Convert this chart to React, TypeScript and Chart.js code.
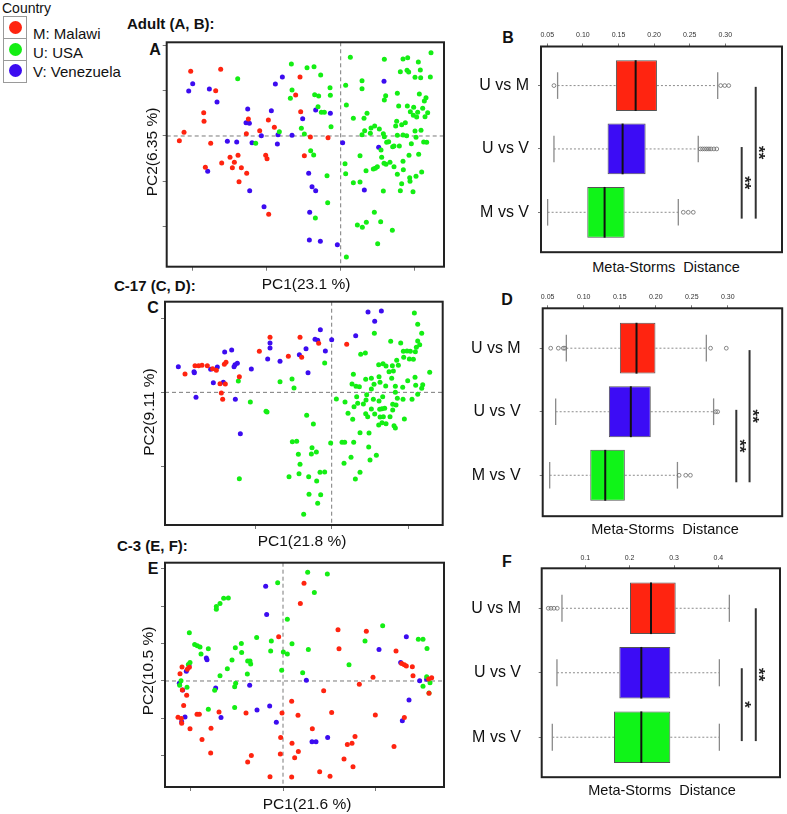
import React, { useEffect, useRef } from 'react';
import { Chart, registerables } from 'chart.js';
Chart.register(...registerables);

const FONT = '"Liberation Sans", Arial, Helvetica, sans-serif';

// ---------- shared ----------
const countries = ['M: Malawi', 'U: USA', 'V: Venezuela'];
const countryColors = ['#ff2410', '#14ee14', '#3c0cf0'];
const categories = ['U vs M', 'U vs V', 'M vs V'];
const boxColors = ['#ff2410', '#3c0cf5', '#10f418'];

// ---------- Panel A (Adult PCoA), arbitrary PC score units ----------
const aMalawi: number[][] = [[-450,194],[-360,200],[-375,136],[-122,177],[-135,123],[-411,70],[-410,44],[-120,73],[-470,11],[-484,-14],[-390,-22],[-277,51],[-283,7],[-243,16],[-217,48],[-199,26],[-91,-3],[-38,-5],[-109,-59],[-225,-58],[-221,-68],[-332,-64],[-308,-58],[-319,-79],[-357,-81],[-325,-95],[-298,-95],[-282,-112],[-406,-94],[-305,-137],[-216,-235]];
const aUSA: number[][] = [[-309,172],[-148,216],[-101,205],[-80,208],[-60,183],[-146,138],[-151,113],[-78,124],[-66,120],[-32,145],[-31,122],[-68,88],[-58,71],[-49,71],[-29,28],[-118,23],[-109,6],[-184,13],[-255,-22],[-90,-44],[-81,-57],[-41,-119],[-39,-200],[-76,-246],[29,236],[15,152],[17,93],[64,166],[64,142],[131,230],[187,231],[201,235],[271,250],[233,222],[179,193],[199,197],[204,192],[239,198],[223,176],[240,175],[269,177],[135,121],[131,108],[170,128],[236,126],[256,115],[251,105],[174,90],[200,90],[219,86],[209,73],[218,62],[228,57],[231,71],[246,83],[261,70],[253,58],[38,53],[79,68],[70,53],[168,44],[165,30],[183,34],[194,40],[91,24],[102,30],[72,16],[64,4],[89,8],[116,21],[128,7],[131,-2],[144,-17],[170,2],[187,3],[198,1],[223,15],[241,17],[226,-4],[249,-18],[258,-19],[138,-19],[156,-32],[160,-30],[176,-30],[212,-23],[234,-55],[121,-42],[58,-59],[123,-64],[130,-82],[136,-85],[148,-79],[160,-92],[187,-76],[205,-58],[13,-83],[15,-113],[76,-104],[98,-99],[104,-97],[110,-92],[38,-140],[58,-138],[170,-115],[188,-101],[207,-125],[226,-121],[243,-108],[208,-136],[183,-143],[179,-164],[217,-167],[128,-165],[101,-229],[120,-257],[50,-267],[65,-274],[77,-259],[155,-283],[111,-323],[17,-363]];
const aVenezuela: number[][] = [[-444,157],[-456,135],[-394,141],[-371,102],[-175,177],[-196,156],[-279,81],[-208,76],[-284,40],[-274,38],[-114,52],[-75,78],[-31,68],[-188,4],[-146,2],[-238,1],[-340,-16],[-312,-18],[-266,-20],[-190,-24],[6,-20],[130,164],[114,-34],[-399,-106],[-273,-164],[-96,-112],[-86,-152],[-75,-164],[-230,-212],[-93,-229],[-94,-312],[-61,-316],[-10,-326],[71,-162]];
const aXTicks = [-444, -222, 0, 222];
const aYTicks = [-270, -135, 0, 135, 270];

// ---------- Panel C (C-17) ----------
const cMalawi: number[][] = [[-440,55],[-410,80],[-399,80],[-389,81],[-373,80],[-357,71],[-346,66],[-322,84],[-317,90],[-335,26],[-319,25],[-331,-2],[-327,-21],[-277,47],[-217,123],[-185,165],[-130,108],[-95,165],[-90,105],[-39,147],[45,144]];
const cUSA: number[][] = [[-280,34],[-244,-29],[-197,-57],[-194,-59],[-277,-259],[-155,32],[-119,40],[-113,13],[-21,88],[-75,-69],[-55,-95],[-118,-148],[-105,-147],[-100,-186],[-95,-216],[-59,-166],[-46,-179],[-61,-185],[-35,-240],[-21,-239],[-98,-244],[-128,-253],[-69,-253],[-45,-266],[-68,-306],[-33,-307],[-42,-333],[-84,-366],[-3,-152],[14,-20],[40,-29],[49,-63],[31,-150],[39,-150],[66,-150],[37,-213],[58,-195],[85,-240],[71,-260],[111,-164],[134,-189],[115,-203],[128,177],[101,118],[87,114],[177,153],[207,148],[248,238],[258,204],[270,177],[215,123],[226,124],[236,123],[251,122],[254,135],[264,143],[258,154],[216,105],[233,100],[245,99],[154,86],[141,83],[163,79],[182,80],[200,81],[195,96],[294,60],[65,54],[61,25],[73,18],[83,17],[102,39],[119,42],[127,24],[119,10],[142,47],[145,30],[162,19],[172,62],[180,42],[185,64],[191,18],[191,0],[213,15],[228,35],[250,45],[252,21],[273,23],[270,12],[258,-6],[241,-21],[214,-21],[197,-18],[193,-38],[183,-36],[78,-33],[75,-13],[105,-7],[103,-23],[125,-21],[153,-13],[142,-26],[95,-35],[102,-64],[108,-73],[119,-50],[129,-65],[144,-51],[151,-49],[155,-73],[159,-48],[145,-74],[151,-91],[175,-73],[163,-94],[187,-100],[191,-107],[218,-80],[85,-121],[112,-122],[141,-98],[183,-53],[67,-43],[63,-81]];
const cVenezuela: number[][] = [[-460,77],[-413,62],[-412,59],[-407,-15],[-363,69],[-343,76],[-355,29],[-325,30],[-321,121],[-300,127],[-290,83],[-283,87],[-293,77],[-289,-21],[-274,-124],[-241,70],[-192,100],[-185,148],[-185,133],[-155,93],[-97,113],[-77,131],[-71,59],[-50,159],[-34,188],[-42,156],[-19,124],[0,158],[72,170],[109,241],[149,244],[129,213]];
const cXTicks = [-230, 0, 230];
const cYTicks = [-222, 0, 222];

// ---------- Panel E (C-3) ----------
const eMalawi: number[][] = [[63,294],[52,233],[-13,133],[165,154],[168,97],[250,150],[339,90],[356,53],[364,49],[370,45],[388,43],[390,16],[270,11],[229,-10],[122,-29],[26,-61],[-3,-96],[-111,-96],[45,-103],[146,-95],[277,-102],[364,-110],[88,-144],[-7,-170],[27,-187],[46,-212],[35,-231],[-8,-220],[-95,-224],[-106,-244],[-39,-288],[26,-289],[110,-273],[141,-287],[183,-235],[210,-258],[193,-191],[207,-187],[216,-167],[333,-197],[-303,42],[-309,22],[-281,41],[-287,35],[-302,-27],[-289,-43],[-298,-74],[-315,-109],[-305,-113],[-304,-127],[-279,-144],[-258,-100],[-251,-100],[-243,-176],[-216,-142],[-217,-217],[-192,-93],[437,6],[446,10],[438,-37]];
const eUSA: number[][] = [[74,327],[133,322],[-16,296],[94,266],[-178,249],[-164,250],[-189,233],[-200,224],[-200,216],[13,186],[-281,145],[-265,110],[-257,106],[-249,102],[-224,97],[-246,81],[-279,56],[-284,50],[-167,37],[-189,16],[-153,63],[-143,100],[-125,113],[-124,86],[-106,60],[-99,60],[-97,51],[-107,21],[-142,-7],[-145,-17],[-79,131],[-35,120],[-37,90],[1,87],[13,81],[27,112],[-4,32],[59,25],[76,95],[299,166],[246,120],[198,49],[406,126],[420,126],[432,98],[431,13],[420,-16],[441,-5],[438,-36],[-306,1],[-310,-13],[-288,-19],[-205,-28],[-224,-85],[-145,-80]];
const eVenezuela: number[][] = [[-52,285],[-49,200],[-230,69],[-228,64],[-282,47],[-290,29],[-301,-27],[-202,-21],[-100,-13],[-78,-87],[-40,-75],[-20,-124],[70,2],[87,-183],[99,-183],[134,-170],[288,95],[370,133],[353,56],[410,1],[431,5],[378,-57],[358,-120],[-294,-108],[-304,-123],[-186,-110],[-311,-7]];
const eXTicks = [-277, 0, 277];
const eYTicks = [-225, -112.5, 0, 112.5, 225, 337.5];

// ---------- Panel B (Adult Meta-Storms distances) ----------
const bWhiskLo = [0.0645, 0.0594, 0.0505];
const bQ1 = [0.1464, 0.1347, 0.1062];
const bMedian = [0.1741, 0.1558, 0.1305];
const bQ3 = [0.2040, 0.1881, 0.1586];
const bWhiskHi = [0.2893, 0.2620, 0.2340];
const bOutliers = [[0.0594, 0.2935, 0.2992, 0.3048], [0.265, 0.268, 0.271, 0.274, 0.277, 0.280, 0.284, 0.288], [0.241, 0.248, 0.255]];
const bTicks = [0.05, 0.10, 0.15, 0.20, 0.25, 0.30];
const bSigX = [0.323, 0.3427];
const bSigFrom = [0.97, 0.02];
const bSigTo = [2.1, 2.1];
const bSigLabel = ['**', '**'];

// ---------- Panel D (C-17) ----------
const dWhiskLo = [0.0759, 0.0611, 0.0528];
const dQ1 = [0.1502, 0.1349, 0.1091];
const dMedian = [0.1733, 0.1654, 0.1299];
const dQ3 = [0.1996, 0.1931, 0.1571];
const dWhiskHi = [0.2702, 0.2803, 0.2301];
const dOutliers = [[0.0542, 0.0648, 0.0717, 0.0738, 0.2761, 0.2979], [0.2831, 0.2859], [0.2324, 0.2416, 0.2481]];
const dTicks = [0.05, 0.10, 0.15, 0.20, 0.25, 0.30];
const dSigX = [0.3118, 0.3302];
const dSigFrom = [0.97, 0.03];
const dSigTo = [2.11, 2.11];
const dSigLabel = ['**', '**'];

// ---------- Panel F (C-3) ----------
const fWhiskLo = [0.0474, 0.0361, 0.0256];
const fQ1 = [0.2008, 0.1767, 0.1647];
const fMedian = [0.2481, 0.2263, 0.2263];
const fQ3 = [0.3038, 0.2917, 0.2917];
const fWhiskHi = [0.4248, 0.4023, 0.4023];
const fOutliers = [[0.0165, 0.0226, 0.0293, 0.0368], [], []];
const fTicks = [0.1, 0.2, 0.3, 0.4];
const fSigX = [0.4528, 0.4844];
const fSigFrom = [0.93, 0.0];
const fSigTo = [2.06, 2.06];
const fSigLabel = ['*', '**'];

// ---------- chart helpers ----------
const scatterDecor = {
  id: 'scatterDecor',
  beforeDatasetsDraw(chart: any) {
    const { ctx, chartArea: a, scales } = chart;
    const px = scales.x.getPixelForValue(0);
    const py = scales.y.getPixelForValue(0);
    ctx.save();
    ctx.strokeStyle = '#7a7a7a';
    ctx.lineWidth = 1;
    ctx.setLineDash([4, 3]);
    ctx.beginPath();
    ctx.moveTo(px, a.top); ctx.lineTo(px, a.bottom);
    ctx.moveTo(a.left, py); ctx.lineTo(a.right, py);
    ctx.stroke();
    ctx.restore();
  },
  afterDraw(chart: any) {
    const { ctx, chartArea: a } = chart;
    ctx.save();
    ctx.strokeStyle = '#222';
    ctx.lineWidth = 2;
    ctx.strokeRect(a.left, a.top, a.right - a.left, a.bottom - a.top);
    ctx.restore();
  },
};

function ScatterPanel(props: any) {
  const { box, groups, xMin, xMax, yMin, yMax, xTicks, yTicks } = props;
  const ref = useRef<HTMLCanvasElement>(null);
  const cl = Math.floor(box.l) - 10;
  const ct = Math.floor(box.t) - 10;
  const cw = Math.ceil(box.r) + 10 - cl;
  const ch = Math.ceil(box.b) + 10 - ct;
  useEffect(() => {
    const axis = 8;
    const chart = new Chart(ref.current as HTMLCanvasElement, {
      type: 'scatter',
      data: {
        datasets: groups.map((g: number[][], i: number) => ({
          label: countries[i],
          data: g.map(([x, y]) => ({ x, y })),
          backgroundColor: countryColors[i],
          borderColor: countryColors[i],
          borderWidth: 0,
          pointRadius: 2.5,
        })),
      },
      options: {
        responsive: false,
        animation: false,
        events: [],
        layout: {
          padding: {
            left: box.l - cl - axis,
            top: box.t - ct,
            right: cl + cw - box.r,
            bottom: ct + ch - box.b - axis,
          },
        },
        plugins: { legend: { display: false }, tooltip: { enabled: false } },
        scales: {
          x: {
            type: 'linear', position: 'bottom', min: xMin, max: xMax,
            afterBuildTicks: (s: any) => { s.ticks = xTicks.map((v: number) => ({ value: v })); },
            afterFit: (s: any) => { s.height = axis; s.paddingLeft = 0; s.paddingRight = 0; },
            ticks: { display: false },
            grid: { drawOnChartArea: false, drawTicks: true, tickLength: 4, color: '#777' },
            border: { display: false },
          },
          y: {
            type: 'linear', position: 'left', min: yMin, max: yMax,
            afterBuildTicks: (s: any) => { s.ticks = yTicks.map((v: number) => ({ value: v })); },
            afterFit: (s: any) => { s.width = axis; s.paddingTop = 0; s.paddingBottom = 0; },
            ticks: { display: false },
            grid: { drawOnChartArea: false, drawTicks: true, tickLength: 4, color: '#777' },
            border: { display: false },
          },
        },
      } as any,
      plugins: [scatterDecor],
    });
    return () => chart.destroy();
  }, []);
  return (
    <canvas ref={ref} width={cw} height={ch}
      style={{ position: 'absolute', left: cl, top: ct, width: cw, height: ch }} />
  );
}

function makeBoxDecor(d: any) {
  return {
    id: 'boxDecor',
    beforeDatasetsDraw(chart: any) {
      const { ctx, scales } = chart;
      const x = scales.x, y = scales.y;
      ctx.save();
      d.q1.forEach((_: number, i: number) => {
        const py = y.getPixelForValue(i);
        const cap = Math.abs(y.getPixelForValue(i + 0.21) - py);
        ctx.setLineDash([2, 2]);
        ctx.strokeStyle = '#8c8c8c';
        ctx.lineWidth = 1;
        ctx.beginPath();
        ctx.moveTo(x.getPixelForValue(d.lo[i]), py); ctx.lineTo(x.getPixelForValue(d.q1[i]), py);
        ctx.moveTo(x.getPixelForValue(d.q3[i]), py); ctx.lineTo(x.getPixelForValue(d.hi[i]), py);
        ctx.stroke();
        ctx.setLineDash([]);
        ctx.strokeStyle = '#8a8a8a';
        ctx.lineWidth = 1.3;
        [d.lo[i], d.hi[i]].forEach((v: number) => {
          const px = x.getPixelForValue(v);
          ctx.beginPath(); ctx.moveTo(px, py - cap); ctx.lineTo(px, py + cap); ctx.stroke();
        });
      });
      ctx.restore();
    },
    afterDatasetsDraw(chart: any) {
      const { ctx, scales } = chart;
      const x = scales.x, y = scales.y;
      ctx.save();
      d.med.forEach((m: number, i: number) => {
        const px = x.getPixelForValue(m);
        const h = Math.abs(y.getPixelForValue(i + 0.4) - y.getPixelForValue(i));
        const py = y.getPixelForValue(i);
        ctx.strokeStyle = '#111'; ctx.lineWidth = 2;
        ctx.beginPath(); ctx.moveTo(px, py - h); ctx.lineTo(px, py + h); ctx.stroke();
      });
      d.sigX.forEach((sx: number, i: number) => {
        const px = x.getPixelForValue(sx);
        const y1 = y.getPixelForValue(d.sigFrom[i]);
        const y2 = y.getPixelForValue(d.sigTo[i]);
        ctx.strokeStyle = '#333'; ctx.lineWidth = 2;
        ctx.beginPath(); ctx.moveTo(px, y1); ctx.lineTo(px, y2); ctx.stroke();
        ctx.save();
        ctx.translate(px + 2, (y1 + y2) / 2);
        ctx.rotate(Math.PI / 2);
        ctx.font = `bold 17px ${FONT}`;
        ctx.fillStyle = '#222';
        ctx.textAlign = 'center';
        ctx.textBaseline = 'middle';
        ctx.fillText(d.sigLabel[i], 0, 0);
        ctx.restore();
      });
      ctx.restore();
    },
    afterDraw(chart: any) {
      const { ctx, chartArea: a } = chart;
      ctx.save();
      ctx.strokeStyle = '#222';
      ctx.lineWidth = 2;
      ctx.strokeRect(a.left, a.top, a.right - a.left, a.bottom - a.top);
      ctx.restore();
    },
  };
}

function BoxPanel(props: any) {
  const { box, d, xMin, xMax, yMin, yMax, xTicks, decimals, labelPad, tickPad } = props;
  const ref = useRef<HTMLCanvasElement>(null);
  const cl = 465;
  const cw = 787 - cl;
  const ct = Math.floor(box.t) - 28;
  const ch = Math.ceil(box.b) + 4 - ct;
  useEffect(() => {
    const axisW = box.l - cl;
    const axisH = box.t - ct;
    const outlierPts: any[] = [];
    d.out.forEach((arr: number[], i: number) => arr.forEach((v) => outlierPts.push({ x: v, y: i })));
    const chart = new Chart(ref.current as HTMLCanvasElement, {
      type: 'bar',
      data: {
        datasets: [
          {
            type: 'bar',
            indexAxis: 'y',
            data: d.q1.map((v: number, i: number) => ({ y: i, x: [v, d.q3[i]] })),
            backgroundColor: boxColors,
            borderColor: '#555',
            borderWidth: 1,
            borderSkipped: false,
            barPercentage: 0.8,
            categoryPercentage: 1,
          },
          {
            type: 'scatter',
            data: outlierPts,
            pointRadius: 1.9,
            pointBorderWidth: 0.8,
            pointBorderColor: '#6a6a6a',
            pointBackgroundColor: 'rgba(0,0,0,0)',
          },
        ],
      },
      options: {
        indexAxis: 'y',
        responsive: false,
        animation: false,
        events: [],
        layout: { padding: { left: 0, top: 0, right: cl + cw - box.r, bottom: ct + ch - box.b } },
        plugins: { legend: { display: false }, tooltip: { enabled: false } },
        scales: {
          x: {
            type: 'linear', position: 'top', min: xMin, max: xMax,
            afterBuildTicks: (s: any) => { s.ticks = xTicks.map((v: number) => ({ value: v })); },
            afterFit: (s: any) => { s.height = axisH; s.paddingLeft = 0; s.paddingRight = 0; },
            ticks: {
              font: { size: 7, family: FONT }, color: '#333', padding: tickPad,
              maxRotation: 0, autoSkip: false,
              callback: (v: any) => Number(v).toFixed(decimals),
            },
            grid: { drawOnChartArea: false, drawTicks: true, tickLength: 3, color: '#777', offset: false },
            border: { display: false },
          },
          y: {
            type: 'linear', position: 'left', reverse: true, min: yMin, max: yMax, offset: false,
            afterBuildTicks: (s: any) => { s.ticks = categories.map((_, i) => ({ value: i })); },
            afterFit: (s: any) => { s.width = axisW; s.paddingTop = 0; s.paddingBottom = 0; },
            ticks: {
              font: { size: 16, family: FONT }, color: '#111', padding: labelPad,
              autoSkip: false,
              callback: (v: any) => categories[v] ?? '',
            },
            grid: { drawOnChartArea: false, drawTicks: true, tickLength: 3, color: '#777', offset: false },
            border: { display: false },
          },
        },
      } as any,
      plugins: [makeBoxDecor(d)],
    });
    return () => chart.destroy();
  }, []);
  return (
    <canvas ref={ref} width={cw} height={ch}
      style={{ position: 'absolute', left: cl, top: ct, width: cw, height: ch }} />
  );
}

function T(props: any) {
  const { x, y, text, size = 15, bold = false, rot = false, left = false } = props;
  return (
    <div style={{
      position: 'absolute', left: x, top: y,
      transform: `translate(${left ? '0' : '-50%'}, -50%)${rot ? ' rotate(-90deg)' : ''}`,
      fontFamily: FONT, fontSize: size, fontWeight: bold ? 700 : 400,
      whiteSpace: 'pre', lineHeight: 1, color: '#111',
    }}>{text}</div>
  );
}

function Legend() {
  const ys = [27.3, 49.3, 70.7];
  const ty = [33.3, 51.7, 71];
  return (
    <>
      <T x={2} y={8} text="Country" size={14} left />
      {countries.map((c, i) => (
        <React.Fragment key={c}>
          <div style={{
            position: 'absolute', left: 3, top: 15.7 + i * 22, width: 22, height: 21,
            border: '1px solid #9a9a9a', boxSizing: 'content-box',
          }} />
          <div style={{
            position: 'absolute', left: 15 - 6.5, top: ys[i] - 6.5, width: 13, height: 13,
            borderRadius: '50%', background: countryColors[i],
          }} />
          <T x={33} y={ty[i]} text={c} size={15} left />
        </React.Fragment>
      ))}
    </>
  );
}

export default function App() {
  const boxA = { l: 166.7, t: 42.3, r: 444, b: 266.7 };
  const boxC = { l: 165, t: 301.7, r: 442.7, b: 525 };
  const boxE = { l: 165, t: 562.7, r: 444, b: 787 };
  const boxB = { l: 541, t: 46.5, r: 782, b: 252.7 };
  const boxD = { l: 542.7, t: 308.3, r: 782.7, b: 516.7 };
  const boxF = { l: 541.7, t: 568.3, r: 780, b: 777.3 };
  const dB = { lo: bWhiskLo, q1: bQ1, med: bMedian, q3: bQ3, hi: bWhiskHi, out: bOutliers, sigX: bSigX, sigFrom: bSigFrom, sigTo: bSigTo, sigLabel: bSigLabel };
  const dD = { lo: dWhiskLo, q1: dQ1, med: dMedian, q3: dQ3, hi: dWhiskHi, out: dOutliers, sigX: dSigX, sigFrom: dSigFrom, sigTo: dSigTo, sigLabel: dSigLabel };
  const dF = { lo: fWhiskLo, q1: fQ1, med: fMedian, q3: fQ3, hi: fWhiskHi, out: fOutliers, sigX: fSigX, sigFrom: fSigFrom, sigTo: fSigTo, sigLabel: fSigLabel };
  return (
    <div style={{ position: 'absolute', left: 0, top: 0, width: 787, height: 814, overflow: 'hidden', background: '#fff' }}>
      <Legend />

      <T x={127} y={23} text="Adult (A, B):" bold left />
      <T x={114} y={285} text="C-17 (C, D):" bold left />
      <T x={117} y={545} text="C-3 (E, F):" bold left />

      <T x={155} y={50} text="A" bold size={16} />
      <T x={153} y={307.5} text="C" bold size={16} />
      <T x={153} y={569} text="E" bold size={16} />
      <T x={508} y={37.5} text="B" bold size={16} />
      <T x={507} y={299.5} text="D" bold size={16} />
      <T x={507} y={562} text="F" bold size={16} />

      <ScatterPanel box={boxA} groups={[aMalawi, aUSA, aVenezuela]} xMin={-522} xMax={310} yMin={-392} yMax={281} xTicks={aXTicks} yTicks={aYTicks} />
      <ScatterPanel box={boxC} groups={[cMalawi, cUSA, cVenezuela]} xMin={-500} xMax={333} yMin={-398} yMax={272} xTicks={cXTicks} yTicks={cYTicks} />
      <ScatterPanel box={boxE} groups={[eMalawi, eUSA, eVenezuela]} xMin={-354} xMax={483} yMin={-319} yMax={356} xTicks={eXTicks} yTicks={eYTicks} />

      <T x={306} y={283.5} text="PC1(23.1 %)" size={15.5} />
      <T x={152} y={152} text="PC2(6.35 %)" size={15.5} rot />
      <T x={302} y={541} text="PC1(21.8 %)" size={15.5} />
      <T x={149} y={412} text="PC2(9.11 %)" size={15.5} rot />
      <T x={307} y={804} text="PC1(21.6 %)" size={15.5} />
      <T x={148} y={671} text="PC2(10.5 %)" size={15.5} rot />

      <BoxPanel box={boxB} d={dB} xMin={0.0412} xMax={0.3796} yMin={-0.617} yMax={2.63} xTicks={bTicks} decimals={2} labelPad={9} tickPad={4.3} />
      <BoxPanel box={boxD} d={dD} xMin={0.0431} xMax={0.3755} yMin={-0.628} yMax={2.644} xTicks={dTicks} decimals={2} labelPad={19} tickPad={4.1} />
      <BoxPanel box={boxF} d={dF} xMin={0.0017} xMax={0.539} yMin={-0.62} yMax={2.62} xTicks={fTicks} decimals={1} labelPad={17.7} tickPad={3.1} />

      <T x={666} y={266.5} text="Meta-Storms  Distance" size={14.5} />
      <T x={665} y={528.5} text="Meta-Storms  Distance" size={14.5} />
      <T x={662} y={790} text="Meta-Storms  Distance" size={14.5} />
    </div>
  );
}
